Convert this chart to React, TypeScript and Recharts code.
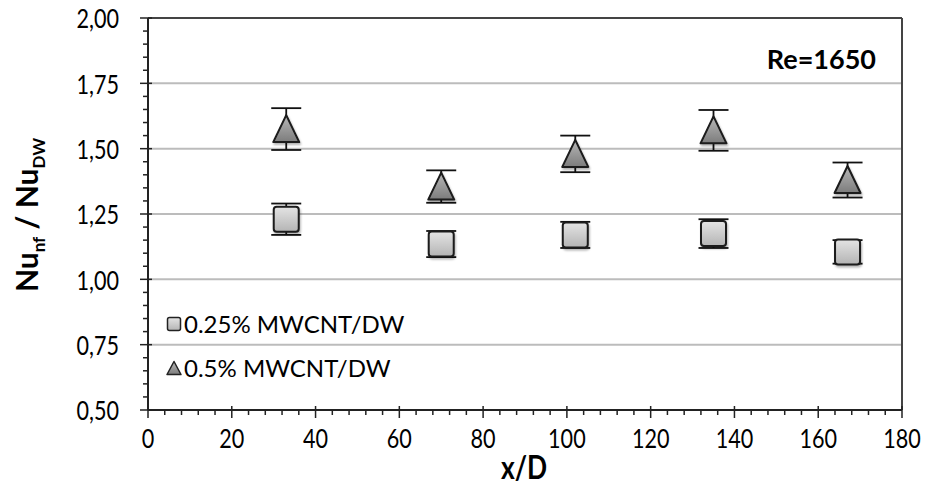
import React from 'react';
import { ComposedChart, Scatter, XAxis, YAxis, ErrorBar, CartesianGrid, ReferenceLine } from 'recharts';

// x/D stations and the ratio Nu_nf / Nu_DW
const stations = [33, 70, 102, 135, 167];
const low = [1.23, 1.135, 1.17, 1.175, 1.105];
const lowErr = [0.06, 0.05, 0.05, 0.055, 0.045];
const high = [1.575, 1.355, 1.48, 1.57, 1.38];
const highErr = [0.08, 0.062, 0.07, 0.078, 0.067];

const xMajor = [0, 20, 40, 60, 80, 100, 120, 140, 160, 180];
const yMajor = [0.5, 0.75, 1.0, 1.25, 1.5, 1.75, 2.0];
const gridValues = [0.75, 1.0, 1.25, 1.5, 1.75];
const X_MINOR_STEP = 4;
const Y_MINOR_STEP = 0.05;

const xTicks: number[] = [];
for (let v = 0; v <= 180; v += X_MINOR_STEP) xTicks.push(v);
const yTicks: number[] = [];
for (let i = 0; i <= 30; i++) yTicks.push(+(0.5 + i * Y_MINOR_STEP).toFixed(2));

const lowData = stations.map((x, i) => ({ x, y: low[i], err: lowErr[i] }));
const highData = stations.map((x, i) => ({ x, y: high[i], err: highErr[i] }));

const FONT = 'Lato, "Open Sans", sans-serif';
const AXIS = '#222';
// the source figure is a bit squeezed sideways, so tick text is narrowed
const SQUEEZE = 0.8;

const isMajor = (v: number, list: number[]) => list.some(m => Math.abs(m - v) < 1e-6);

const YTick = ({ x, y, payload }: any) => {
  const major = isMajor(payload.value, yMajor);
  return (
    <g>
      <line x1={x - (major ? 8 : 5)} x2={x + (major ? 4 : 0)} y1={y} y2={y} stroke={AXIS} strokeWidth={1.5} />
      {major && (
        <g transform={`translate(${x - 29},${y}) scale(${SQUEEZE},1)`}>
          <text x={0} y={0} textAnchor="end" dominantBaseline="central" fontSize={27} fill="#000" fontFamily={FONT}>
            {payload.value.toFixed(2).replace('.', ',')}
          </text>
        </g>
      )}
    </g>
  );
};

const XTick = ({ x, y, payload }: any) => {
  const major = isMajor(payload.value, xMajor);
  return (
    <g>
      <line x1={x} x2={x} y1={y - (major ? 4 : 0)} y2={y + (major ? 8 : 5)} stroke={AXIS} strokeWidth={1.5} />
      {major && (
        <g transform={`translate(${x},${y + 28}) scale(${SQUEEZE},1)`}>
          <text x={0} y={0} textAnchor="middle" dominantBaseline="central" fontSize={27} fill="#000" fontFamily={FONT}>
            {payload.value}
          </text>
        </g>
      )}
    </g>
  );
};

const SquareMarker = ({ cx, cy }: any) => (
  <rect x={cx - 12.5} y={cy - 12.5} width={25} height={25} rx={3} fill="url(#sqFill)" stroke="#1a1a1a" strokeWidth={2} filter="url(#mkShadow)" />
);

const TriangleMarker = ({ cx, cy }: any) => (
  <polygon
    points={`${cx},${cy - 14} ${cx + 13},${cy + 13} ${cx - 13},${cy + 13}`}
    fill="url(#triFill)"
    stroke="#1a1a1a"
    strokeWidth={2}
    strokeLinejoin="round"
    filter="url(#mkShadow)"
  />
);

export default function App() {
  return (
    <div style={{ position: 'absolute', left: 0, top: 0, width: 939, height: 487, background: '#fff', fontFamily: FONT, color: '#000' }}>
      <ComposedChart width={939} height={487} margin={{ top: 18, right: 37, left: 0, bottom: 0 }}>
        <defs>
          <linearGradient id="sqFill" x1="0" y1="0" x2="0" y2="1">
            <stop offset="0%" stopColor="#e4e4e4" />
            <stop offset="100%" stopColor="#b4b4b4" />
          </linearGradient>
          <linearGradient id="triFill" x1="0" y1="0" x2="0" y2="1">
            <stop offset="0%" stopColor="#b8b8b8" />
            <stop offset="100%" stopColor="#7c7c7c" />
          </linearGradient>
          <filter id="mkShadow" x="-30%" y="-30%" width="160%" height="160%">
            <feDropShadow dx="1" dy="2" stdDeviation="1.2" floodColor="#000" floodOpacity="0.3" />
          </filter>
        </defs>
        <CartesianGrid horizontal vertical={false} horizontalValues={gridValues} stroke="#bcbcbc" strokeWidth={2} />
        <ReferenceLine y={2} stroke="#444" strokeWidth={2} />
        <ReferenceLine x={180} stroke="#444" strokeWidth={2} />
        <XAxis
          type="number"
          dataKey="x"
          domain={[0, 180]}
          ticks={xTicks}
          interval={0}
          tick={<XTick />}
          tickSize={0}
          tickMargin={0}
          tickLine={false}
          axisLine={{ stroke: AXIS, strokeWidth: 2 }}
          height={77}
        />
        <YAxis
          type="number"
          dataKey="y"
          domain={[0.5, 2]}
          ticks={yTicks}
          interval={0}
          tick={<YTick />}
          tickSize={0}
          tickMargin={0}
          tickLine={false}
          axisLine={{ stroke: AXIS, strokeWidth: 2 }}
          width={148}
        />
        <Scatter name="0.25% MWCNT/DW" data={lowData} shape={<SquareMarker />} isAnimationActive={false}>
          <ErrorBar dataKey="err" direction="y" width={15} stroke="#111" strokeWidth={1.8} isAnimationActive={false} />
        </Scatter>
        <Scatter name="0.5% MWCNT/DW" data={highData} shape={<TriangleMarker />} isAnimationActive={false}>
          <ErrorBar dataKey="err" direction="y" width={15} stroke="#111" strokeWidth={1.8} isAnimationActive={false} />
        </Scatter>
      </ComposedChart>

      {/* y axis title */}
      <div
        style={{
          position: 'absolute',
          left: 32,
          top: 215,
          transform: 'translate(-50%, -50%) rotate(-90deg)',
          whiteSpace: 'nowrap',
          fontWeight: 700,
          fontSize: 30,
          lineHeight: '34px',
        }}
      >
        Nu<sub style={{ fontSize: 17 }}>nf</sub> / Nu<sub style={{ fontSize: 17 }}>DW</sub>
      </div>

      {/* x axis title */}
      <div
        style={{
          position: 'absolute',
          left: 524,
          top: 466,
          transform: `translate(-50%, -50%) scale(${SQUEEZE},1)`,
          fontWeight: 700,
          fontSize: 33,
        }}
      >
        x/D
      </div>

      <div style={{ position: 'absolute', right: 63, top: 58, transform: 'translateY(-50%)', fontWeight: 700, fontSize: 27 }}>
        Re=1650
      </div>

      {/* legend */}
      <div style={{ position: 'absolute', left: 166, top: 311, fontSize: 24, lineHeight: '26px' }}>
        <div style={{ display: 'flex', alignItems: 'center', height: 26 }}>
          <svg width={16} height={16} style={{ marginRight: 2 }}>
            <rect x={1.5} y={1.5} width={13} height={13} rx={2} fill="url(#sqFill)" stroke="#222" strokeWidth={1.5} />
          </svg>
          0.25% MWCNT/DW
        </div>
        <div style={{ display: 'flex', alignItems: 'center', height: 26, marginTop: 18 }}>
          <svg width={16} height={16} style={{ marginRight: 2 }}>
            <polygon points="8,1.5 15,14.5 1,14.5" fill="url(#triFill)" stroke="#222" strokeWidth={1.5} strokeLinejoin="round" />
          </svg>
          0.5% MWCNT/DW
        </div>
      </div>
    </div>
  );
}
